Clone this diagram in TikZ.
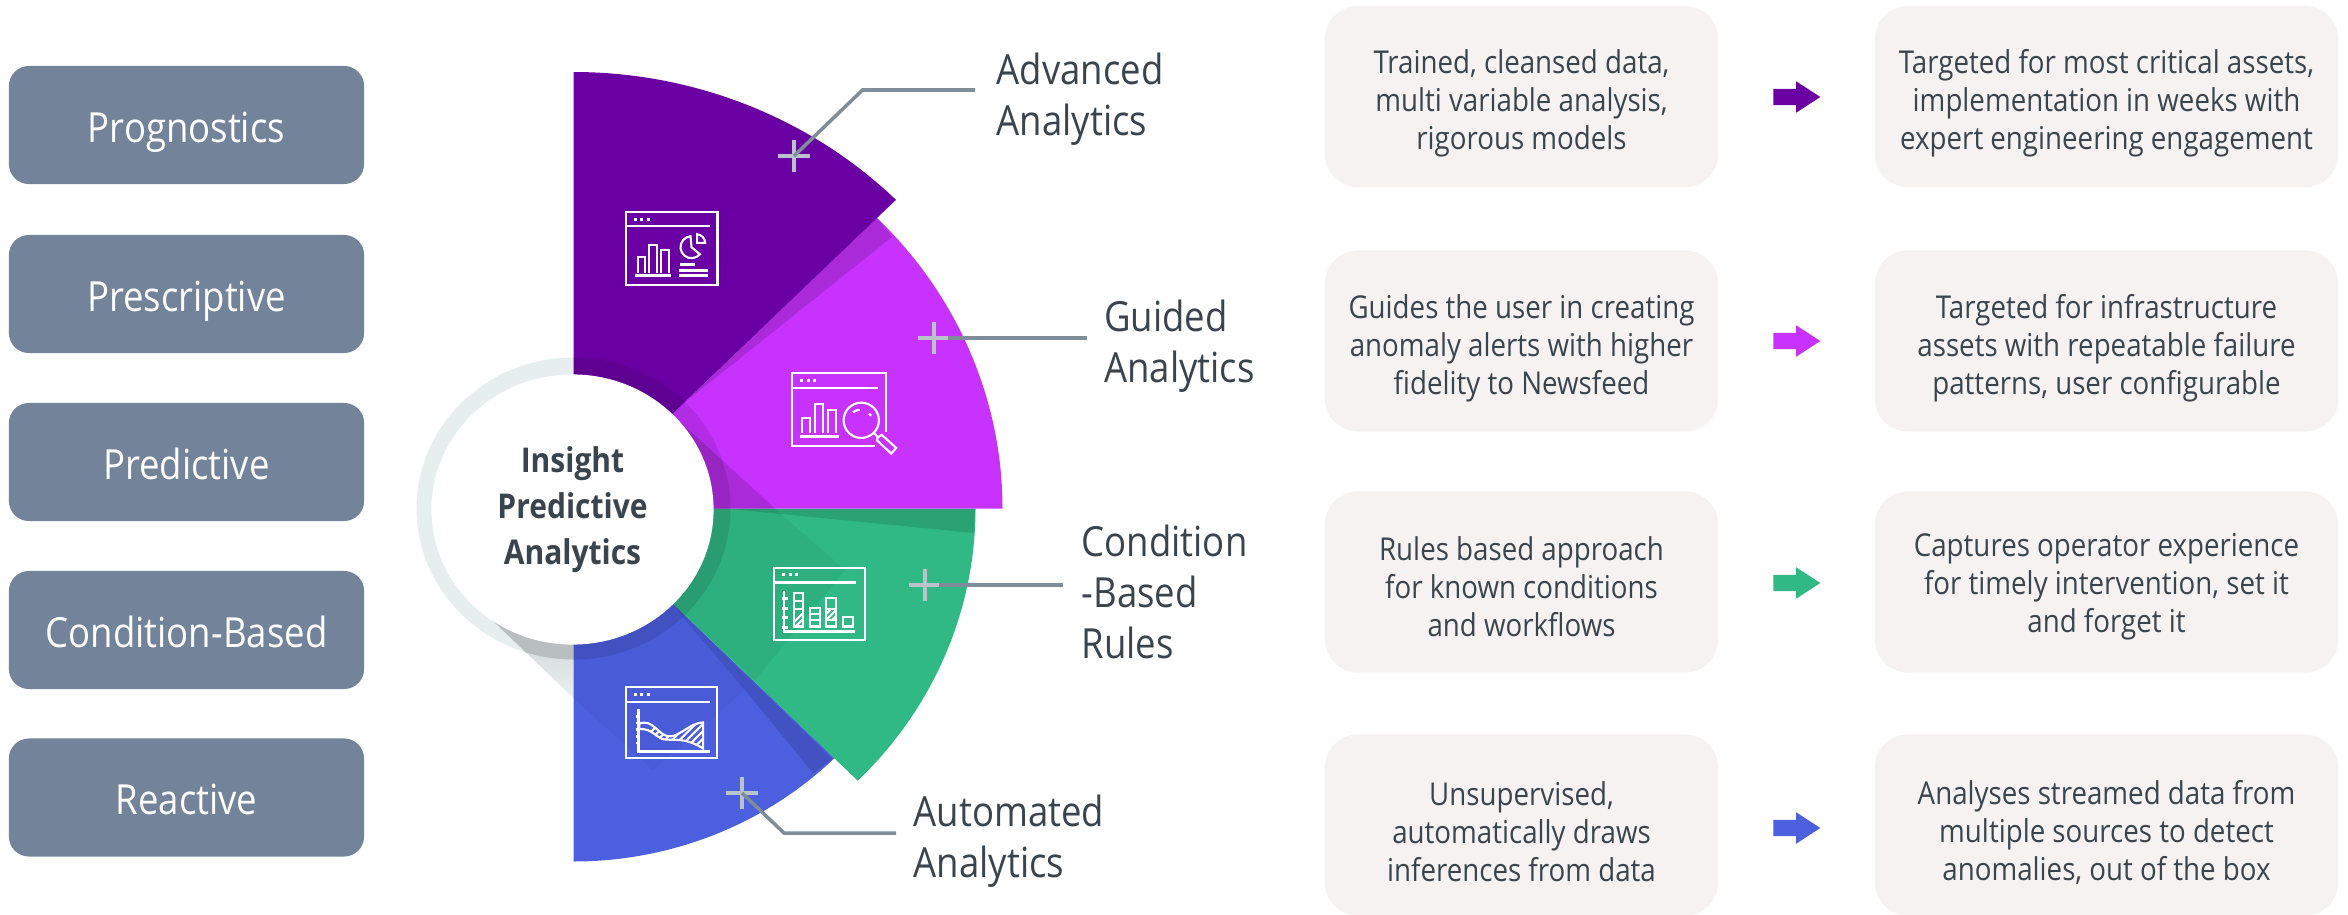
\documentclass[tikz,border=0pt]{standalone}
\usepackage{fontspec}
\setmainfont[FakeStretch=0.88]{Open Sans}
\usetikzlibrary{shapes.geometric,shapes.arrows,shapes.misc,positioning}
\definecolor{wedgeA}{HTML}{6A00A3}
\definecolor{wedgeB}{HTML}{C832FF}
\definecolor{wedgeC}{HTML}{31B985}
\definecolor{wedgeD}{HTML}{4C5FDF}
\definecolor{stagegrey}{HTML}{73849A}
\definecolor{cardgrey}{HTML}{F5F2F1}
\definecolor{inktext}{HTML}{3A444C}
\definecolor{ringgrey}{HTML}{E7EFEE}
\definecolor{leadgrey}{HTML}{7F8D9B}
\definecolor{plusgrey}{HTML}{B9C3C9}
\newcommand{\winframe}[4]{\draw[iconline] (#1,#2) rectangle (#3,#4);}
\newcommand{\windots}[4]{\foreach \dx in {#1,#2,#3} \fill[white] (\dx-4.5,#4-4.5) rectangle (\dx+4.5,#4+4.5);}
\tikzset{
  stagebox/.style={draw=none,fill=stagegrey,rounded corners=0.2cm,minimum width=3.55cm,minimum height=1.18cm,
    text=white,text height=0.38cm,text depth=0.04cm,font=\fontsize{11.8}{14}\selectfont},
  cardbox/.style={draw=none,fill=cardgrey,rounded corners=0.33cm,minimum height=1.81cm},
  cardtext/.style={yshift=-0.07cm,text=inktext,align=center,font=\fontsize{8.95}{10.8}\selectfont},
  leadlabel/.style={anchor=west,text=inktext,align=left,inner sep=0pt,font=\fontsize{11.8}{14.5}\selectfont},
  plusmark/.style={cross out,draw=plusgrey,line width=1.2pt,rotate=45,minimum size=0.185cm,inner sep=0pt},
  leadline/.style={draw=leadgrey,line width=1pt},
  flowarrow/.style={single arrow,draw=none,minimum height=0.47cm,inner xsep=0pt,inner ysep=0.075cm,
    single arrow head extend=0.075cm,single arrow tip angle=66},
  iconline/.style={draw=white,line width=0.6pt},
  iconbold/.style={draw=white,line width=0.8pt}
}
\begin{document}
\begin{tikzpicture}[x=0.01cm,y=-0.01cm]
  \useasboundingbox (0,0) rectangle (2348,915);
  % ring and its cast shadow
  \fill[ringgrey] (573.5,508.5) ellipse [x radius=157,y radius=151];
  \shade[top color=black!14!ringgrey,bottom color=ringgrey!90!white] (481.6,610) -- (573.5,698) -- (573.5,610) -- cycle;
  \begin{scope}
    \clip (481.6,610) -- (573.5,698) -- (573.5,610) -- cycle;
    \fill[black!20!ringgrey] (573.5,508.5) ellipse [x radius=157,y radius=151];
  \end{scope}
  % wedges
  \fill[wedgeD] (573.5,508.5) -- (573.5,861.5) arc [start angle=90,end angle=45,x radius=369,y radius=353] -- cycle;
  \fill[black,opacity=0.04] (573.5,640) -- (573.5,698) -- (653,770) -- (745,690) -- (673.5,605) -- cycle;
  \fill[black,opacity=0.13] (673.5,605) -- (832.6,759) -- (813,773) -- (745,690) -- (683,617) -- cycle;
  \fill[wedgeC] (573.5,508.5) -- (975.5,508.5) arc [start angle=0,end angle=45,x radius=402,y radius=385] -- cycle;
  \fill[black,opacity=0.12] (731,509) -- (975.5,509) -- (973.5,533) -- cycle;
  \fill[black,opacity=0.05] (775,509) -- (845,570) -- (755,680) -- (673.5,605) -- (600,509) -- cycle;
  \fill[wedgeB] (573.5,508.5) -- (1002.5,508.5) arc [start angle=0,end angle=-45,x radius=429,y radius=411] -- cycle;
  \fill[black,opacity=0.15] (676,418) -- (775.5,509) -- (640,509) -- cycle;
  \fill[black,opacity=0.15] (673.5,413) -- (877,218) -- (892,237) -- (684,403) -- cycle;
  \fill[wedgeA] (573.5,508.5) -- (573.5,72) arc [start angle=-90,end angle=-45,x radius=456,y radius=436.5] -- cycle;
  % dark part of the ring, then the hub
  \fill[black,opacity=0.1] (573.5,357.5) arc [start angle=-90,end angle=90,x radius=157,y radius=151] -- cycle;
  \node[ellipse,fill=white,minimum width=2.82cm,minimum height=2.70cm,inner sep=0pt,text=inktext,align=center,
    font=\fontsize{9.7}{13}\selectfont\bfseries] (hub) at (572.5,509.5) {Insight\\Predictive\\Analytics};

  % stages on the left
  \node[stagebox] (prog) at (186.5,125) {Prognostics};
  \node[stagebox] (presc) at (186.5,294) {Prescriptive};
  \node[stagebox] (pred) at (186.5,462) {Predictive};
  \node[stagebox] (cond) at (186.5,630) {Condition-Based};
  \node[stagebox] (react) at (186.5,797.5) {Reactive};

  % leaders
  \node[plusmark] (plusA) at (794,156) {};
  \node[plusmark] (plusB) at (934,338) {};
  \node[plusmark] (plusC) at (925,585) {};
  \node[plusmark] (plusD) at (742,793) {};
  \node[leadlabel] (labA) at (996,99) {Advanced\\Analytics};
  \node[leadlabel] (labB) at (1103.5,346) {Guided\\Analytics};
  \node[leadlabel] (labC) at (1081,592) {Condition\\-Based\\Rules};
  \node[leadlabel] (labD) at (913,841) {Automated\\Analytics};
  \coordinate (bendA) at (862.5,90);
  \coordinate (endA) at (975,90);
  \coordinate (endB) at (1087,338);
  \coordinate (endC) at (1063,585);
  \coordinate (bendD) at (784,833);
  \coordinate (endD) at (896,833);
  \draw[leadline] (plusA.center) -- (bendA) -- (endA);
  \draw[leadline] (plusB.center) ++(14,0) -- (endB);
  \draw[leadline] (plusC.center) ++(14,0) -- (endC);
  \draw[leadline] (plusD.center) -- (bendD) -- (endD);

  % cards and arrows
  \node[cardbox,minimum width=3.93cm,label={[cardtext]center:{Trained, cleansed data,\\multi variable analysis,\\rigorous models}}] (srcA) at (1521.5,96.5) {};
  \node[cardbox,minimum width=4.63cm,label={[cardtext]center:{Targeted for most critical assets,\\implementation in weeks with\\expert engineering engagement}}] (tgtA) at (2106.5,96.5) {};
  \node[cardbox,minimum width=3.93cm,label={[cardtext]center:{Guides the user in creating\\anomaly alerts with higher\\fidelity to Newsfeed}}] (srcB) at (1521.5,341) {};
  \node[cardbox,minimum width=4.63cm,label={[cardtext]center:{Targeted for infrastructure\\assets with repeatable failure\\patterns, user configurable}}] (tgtB) at (2106.5,341) {};
  \node[cardbox,minimum width=3.93cm,label={[cardtext,yshift=0.02cm]center:{Rules based approach\\for known conditions\\and workflows}}] (srcC) at (1521.5,582) {};
  \node[cardbox,minimum width=4.63cm,label={[cardtext,yshift=0.02cm]center:{Captures operator experience\\for timely intervention, set it\\and forget it}}] (tgtC) at (2106.5,582) {};
  \node[cardbox,minimum width=3.93cm,label={[cardtext]center:{Unsupervised,\\automatically draws\\inferences from data}}] (srcD) at (1521.5,825) {};
  \node[cardbox,minimum width=4.63cm,label={[cardtext]center:{Analyses streamed data from\\multiple sources to detect\\anomalies, out of the box}}] (tgtD) at (2106.5,825) {};
  \node[flowarrow,fill=wedgeA] (flowA) at (1790.5,97) {};
  \node[flowarrow,fill=wedgeB] (flowB) at (1790.5,341) {};
  \node[flowarrow,fill=wedgeC] (flowC) at (1790.5,583) {};
  \node[flowarrow,fill=wedgeD] (flowD) at (1790.5,828) {};

  % icons, upper two
  \begin{scope}[shift={(600,190)},x=0.00333cm,y=-0.00333cm]
    \winframe{77}{65}{353}{285}
    \draw[iconbold] (80,108) -- (330,108);
    \windots{107}{126}{145}{88}
    \draw[iconline] (113,248) -- (113,200) -- (135,200) -- (135,248);
    \draw[iconline] (148,248) -- (148,165) -- (172,165) -- (172,248);
    \draw[iconline] (184,248) -- (184,180) -- (206,180) -- (206,248);
    \draw[iconbold] (105,256) -- (213,256);
    \draw[iconline] (272,139) arc [start angle=-95,end angle=-320,radius=33] -- (275,172) -- cycle;
    \draw[iconline] (292,133) arc [start angle=-85,end angle=0,radius=26] -- (292,159) -- cycle;
    \draw[iconbold] (240,224) -- (285,224);
    \draw[iconbold] (237,241) -- (324,241);
    \draw[iconbold] (237,256) -- (324,256);

    \draw[iconline] (860,728) -- (860,549) -- (577,549) -- (577,768) -- (826,768);
    \draw[iconbold] (580,595) -- (834,595);
    \windots{605}{625}{645}{571}
    \draw[iconline] (607,730) -- (607,684) -- (631,684) -- (631,730);
    \draw[iconline] (647,730) -- (647,642) -- (669,642) -- (669,730);
    \draw[iconline] (686,730) -- (686,660) -- (708,660) -- (708,730);
    \draw[iconbold] (600,740) -- (717,740);
    \draw[iconline] (785,692) circle [radius=53];
    \draw[iconline] (760,668) arc [start angle=-130,end angle=-90,radius=32];
    \draw[iconline] (808,672) -- (815,678);
    \draw[iconline] (823,730) -- (835,743);
    \draw[iconline] (835,743) -- (847,736) -- (890,775) -- (875,792) -- (832,752) -- cycle;
  \end{scope}

  % icons, lower two
  \begin{scope}[shift={(600,540)},x=0.00333cm,y=-0.00333cm]
    \winframe{522}{84}{795}{300}
    \draw[iconbold] (525,127) -- (770,127);
    \windots{550}{571}{590}{105}
    \draw[iconline] (553,153) -- (553,275) -- (767,275);
    \foreach \ty in {175,205,233,262} \draw[iconbold] (547,\ty) -- (566,\ty);
    \draw[iconline] (582,158) rectangle (611,260);
    \draw[iconline] (630,205) rectangle (662,260);
    \draw[iconline] (679,175) rectangle (709,260);
    \draw[iconline] (729,232) rectangle (759,260);
    \foreach \ty in {183,207} \draw[iconline] (582,\ty) -- (611,\ty);
    \foreach \ty in {222,240} \draw[iconline] (630,\ty) -- (662,\ty);
    \foreach \ty in {207,240} \draw[iconline] (679,\ty) -- (709,\ty);
    \begin{scope}
      \clip (582,210) rectangle (611,260) (679,210) rectangle (709,240);
      \foreach \hx in {560,578,...,720} \draw[iconline] (\hx,270) -- (\hx+60,210);
    \end{scope}

    \winframe{78}{442}{352}{655}
    \draw[iconbold] (80,487) -- (330,487);
    \windots{107}{125}{146}{465}
    \draw[iconbold] (115,508) -- (115,635) -- (330,635);
    \foreach \ty in {530,550,570,590,610} \draw[iconbold] (108,\ty) -- (113,\ty);
    \draw[iconline] (118,552) .. controls (160,535) and (175,590) .. (210,590) .. controls (240,590) and (270,550) .. (310,548) -- (310,627) .. controls (270,600) and (240,600) .. (200,600) .. controls (170,600) and (160,565) .. (118,568) -- cycle;
    \begin{scope}
      \clip (118,552) .. controls (160,535) and (175,590) .. (210,590) .. controls (240,590) and (270,550) .. (310,548) -- (310,627) .. controls (270,600) and (240,600) .. (200,600) .. controls (170,600) and (160,565) .. (118,568) -- cycle;
      \foreach \hx in {100,122,...,340} \draw[iconline] (\hx,630) -- (\hx+90,540);
    \end{scope}
  \end{scope}
\end{tikzpicture}
\end{document}
